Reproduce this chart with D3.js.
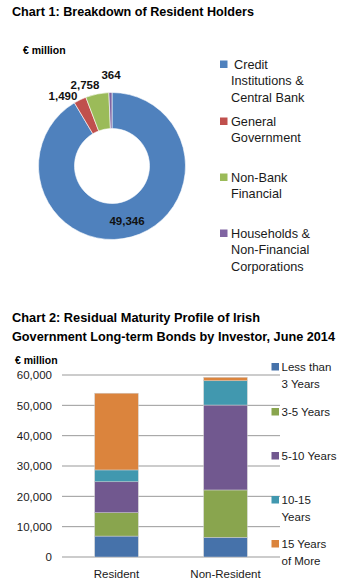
<!DOCTYPE html>
<html><head><meta charset="utf-8">
<script src="https://cdn.jsdelivr.net/npm/d3@7"></script>
<style>body{margin:0;background:#fff}svg{display:block;font-family:"Liberation Sans",Arial,sans-serif}</style>
</head><body>
<script>
// Chart 1 data
const holders = ["Credit Institutions & Central Bank","General Government","Non-Bank Financial","Households & Non-Financial Corporations"];
const holderValues = [49346, 1490, 2758, 364];
const holderLabels = ["49,346","1,490","2,758","364"];
const holderLegendLines = [["Credit","Institutions &","Central Bank"],["General","Government"],["Non-Bank","Financial"],["Households &","Non-Financial","Corporations"]];
// Chart 2 data
const investors = ["Resident","Non-Resident"];
const maturities = ["Less than 3 Years","3-5 Years","5-10 Years","10-15 Years","15 Years of More"];
const maturityLegendLines = [["Less than","3 Years"],["3-5 Years"],["5-10 Years"],["10-15","Years"],["15 Years","of More"]];
const lessThan3 = [6900, 6500];
const y3to5 = [7700, 15600];
const y5to10 = [10200, 28000];
const y10to15 = [3900, 8000];
const y15plus = [25300, 1150];
const yTicks = [0,10000,20000,30000,40000,50000,60000];

const W=347,H=587;
const svg=d3.select("body").append("svg").attr("width",W).attr("height",H);

// ---------- Chart 1 ----------
svg.append("text").attr("x",12).attr("y",16).attr("font-size",13).attr("font-weight","bold").attr("textLength",242).attr("lengthAdjust","spacingAndGlyphs").text("Chart 1: Breakdown of Resident Holders");
svg.append("text").attr("x",23).attr("y",54).attr("font-size",10.5).attr("font-weight","bold").text("€ million");

const pieColors=["#4F81BD","#C0504D","#9BBB59","#8064A2"];
const pie=d3.pie().sort(null).value(d=>d)(holderValues);
const arc=d3.arc().innerRadius(37.5).outerRadius(73.5);
const g1=svg.append("g").attr("transform","translate(112,166)");
g1.selectAll("path").data(pie).join("path").attr("d",arc).attr("fill",(d,i)=>pieColors[i]).attr("stroke","#fff").attr("stroke-width",0.6);

const labelPos=[[127,225],[63,100],[85,89],[111,79]];
svg.selectAll("text.pl").data(holderLabels).join("text").attr("class","pl")
  .attr("x",(d,i)=>labelPos[i][0]).attr("y",(d,i)=>labelPos[i][1]).attr("text-anchor","middle")
  .attr("font-size",11.5).attr("font-weight","bold").attr("fill","#111").text(d=>d);

const leg1Y=[69,126,182,238];
holders.forEach((h,i)=>{
  svg.append("rect").attr("x",220).attr("y",leg1Y[i]-8.5).attr("width",7.5).attr("height",7.5).attr("fill",pieColors[i]);
  holderLegendLines[i].forEach((l,j)=>{
    svg.append("text").attr("x",i===0&&j===0?234:231).attr("y",leg1Y[i]+j*16.3).attr("font-size",12.7).attr("fill","#1a1a1a").text(l);
  });
});

// ---------- Chart 2 ----------
svg.append("text").attr("x",12).attr("y",322).attr("font-size",12.5).attr("font-weight","bold").attr("textLength",248).attr("lengthAdjust","spacingAndGlyphs").text("Chart 2: Residual Maturity Profile of Irish");
svg.append("text").attr("x",12).attr("y",341).attr("font-size",12.5).attr("font-weight","bold").attr("textLength",323).attr("lengthAdjust","spacingAndGlyphs").text("Government Long-term Bonds by Investor, June 2014");
svg.append("text").attr("x",15).attr("y",364).attr("font-size",10.5).attr("font-weight","bold").text("€ million");

const y=d3.scaleLinear().domain([0,60000]).range([557,375]);
const x=d3.scaleBand().domain(investors).range([62,280]).paddingInner(0.6).paddingOuter(0.3);
const yAxis=d3.axisLeft(y).tickValues(yTicks).tickFormat(d3.format(",")).tickSize(0).tickPadding(10);
const ga=svg.append("g").attr("transform","translate(62,0)").call(yAxis);
ga.select(".domain").remove();
ga.selectAll("text").attr("font-size",11.5).attr("fill","#1a1a1a").attr("font-family","Liberation Sans, Arial, sans-serif");
svg.append("g").selectAll("line").data(yTicks).join("line")
  .attr("x1",62).attr("x2",280).attr("y1",d=>y(d)).attr("y2",d=>y(d))
  .attr("stroke",d=>d===60000?"#bbb":"#999").attr("stroke-width",d=>d===60000?1.5:1);

const barColors=["#4672AA","#89A54E","#71588F","#4198AF","#DB843D"];
const rows=investors.map((inv,i)=>({inv,"Less than 3 Years":lessThan3[i],"3-5 Years":y3to5[i],"5-10 Years":y5to10[i],"10-15 Years":y10to15[i],"15 Years of More":y15plus[i]}));
const stack=d3.stack().keys(maturities)(rows);
svg.append("g").selectAll("g").data(stack).join("g").attr("fill",(d,i)=>barColors[i])
  .selectAll("rect").data(d=>d).join("rect")
  .attr("x",d=>x(d.data.inv)).attr("width",x.bandwidth())
  .attr("y",d=>y(d[1])).attr("height",d=>y(d[0])-y(d[1]))
  .attr("stroke","#cfcfcf").attr("stroke-width",0.5);

svg.selectAll("text.xl").data(investors).join("text").attr("class","xl")
  .attr("x",d=>x(d)+x.bandwidth()/2).attr("y",578).attr("text-anchor","middle")
  .attr("font-size",11.5).attr("fill","#1a1a1a").text(d=>d);

const leg2Y=[371,416,460,504,548];
maturities.forEach((m,i)=>{
  svg.append("rect").attr("x",271.5).attr("y",leg2Y[i]-8).attr("width",7.5).attr("height",7.5).attr("fill",barColors[i]);
  maturityLegendLines[i].forEach((l,j)=>{
    svg.append("text").attr("x",281.5).attr("y",leg2Y[i]+j*16.5).attr("font-size",11.5).attr("fill","#1a1a1a").text(l);
  });
});
</script>
</body></html>
